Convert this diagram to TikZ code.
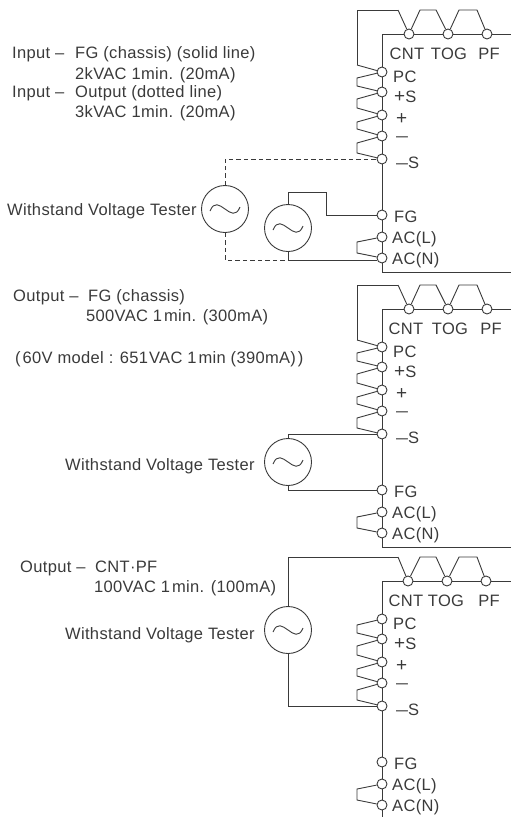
\documentclass[tikz,border=0pt]{standalone}
\usepackage{fontspec}
\setmainfont[LetterSpace=2]{Liberation Sans}
\usepackage{graphicx}
\usepackage{xcolor}
\usetikzlibrary{calc,positioning}
\definecolor{inkgrey}{HTML}{3A3A3A}

\tikzset{
    wire/.style={line width=0.9pt, draw=inkgrey, line join=miter},
    testwire/.style={wire, dash pattern=on 4.5pt off 3pt},
    term/.style={circle, draw=inkgrey, line width=0.9pt, fill=white, minimum size=10pt, inner sep=0pt},
    tester/.style={circle, draw=inkgrey, line width=0.9pt, minimum size=47pt, inner sep=0pt},
    txt/.style={anchor=base west, inner sep=0pt, text=inkgrey, font=\fontsize{16.5}{18}\selectfont},
}

\newcommand{\minusmark}{\scalebox{1.3}[1]{–}}
\newcommand{\plusmark}{\scalebox{1.15}{+}}

% a test set with its tilde
\newcommand{\testset}[3]{
    \node [tester] (#1) at (#2, #3) {};
    \draw [wire] ([shift={(-15,2)}]#1.center) .. controls ([shift={(-7,-18)}]#1.center) and ([shift={(7,18)}]#1.center) .. ([shift={(15,-2)}]#1.center);
}

% terminal block: prefix, shift down, top row shift, x of CNT TOG PF labels
\newcommand{\terminals}[6]{
    \begin{scope}[yshift=-#2pt]
        \foreach \name/\ypos/\tx/\ty/\lab in {PC/72/393/82/PC, pS/92/394/102/\plusmark S, pl/115/396/124/\plusmark, ml/136/396/141/\minusmark, mS/159/396/168/\minusmark S, FG/215/394/222/FG, ACL/237/392/243/AC(L), ACN/258/392/264/AC(N)} {
            \node [term] (#1\name) at (382, \ypos) {};
            \node [txt] (#1\name txt) at (\tx, \ty) {\lab};
        }
        \foreach \name/\xpos/\xlab in {CNT/409/#4, TOG/448/#5, PF/487/#6} {
            \node [term] (#1\name) at (\xpos+#3, 34) {};
            \node [txt, anchor=base] (#1\name txt) at (\xlab, 59) {\name};
        }
        \coordinate (#1corner) at (382, 34);
        \coordinate (#1end) at (511, 34);
        \coordinate (#1in) at (398, 10);

        % top jumpers
        \draw [wire] (#1in) -- (#1CNT);
        \draw [wire] (#1CNT) -- (420, 10) -- (436, 10) -- (#1TOG);
        \draw [wire] (#1TOG) -- (459, 10) -- (477, 10) -- (#1PF);

        % side jumpers
        \draw [wire] (#1PC) -- (357, 78) -- (357, 86) -- (#1pS);
        \draw [wire] (#1pS) -- (357, 99) -- (357, 108) -- (#1pl);
        \draw [wire] (#1pl) -- (357, 122) -- (357, 129) -- (#1ml);
        \draw [wire] (#1ml) -- (357, 143) -- (357, 153) -- (#1mS);
        \draw [wire] (#1ACL) -- (357, 242) -- (357, 253) -- (#1ACN);

        % frame
        \draw [wire] (#1PC) -- (#1corner) -- (#1CNT) -- (#1TOG) -- (#1PF) -- (#1end);
        \draw [wire] (#1PC) -- (#1pS) -- (#1pl) -- (#1ml) -- (#1mS) -- (#1FG) -- (#1ACL) -- (#1ACN);
    \end{scope}
}

\begin{document}
\begin{tikzpicture}[x=1pt, y=-1pt]
    \useasboundingbox (0, 0) rectangle (511, 817);

    % Input tests
    \terminals{a}{0}{0}{407}{449}{489}
    \coordinate (aout) at (511, 272);
    \coordinate (abot) at (382, 272);
    \coordinate (astart) at (357, 65);
    \draw [wire] (aACN) -- (abot) -- (aout);
    \draw [wire] (astart) |- (ain);
    \draw [wire] (astart) -- (aPC);
    \node [txt] (atitleA) at (12, 58) {Input –};
    \node [txt] (atitleB) at (75, 58) {FG (chassis) (solid line)};
    \node [txt] (atitleC) at (75, 79) {2kVAC 1min. (20mA)};
    \node [txt] (atitleD) at (12, 97) {Input –};
    \node [txt] (atitleE) at (75, 97) {Output (dotted line)};
    \node [txt] (atitleF) at (75, 117) {3kVAC 1min. (20mA)};
    \node [txt] (atester) at (7, 215) {Withstand Voltage Tester};
    \testset{atestA}{225}{209}
    \testset{atestB}{288}{228}
    \coordinate (afoot) at (288, 260);
    \coordinate (afg) at (326, 192);
    \draw [wire] (atestB.north) |- (afg) |- (aFG);
    \draw [wire] (atestB.south) -- (afoot) -- ([yshift=-2pt]aACN.west);
    \draw [testwire] (atestA.north) |- (amS);
    \draw [testwire] (atestA.south) |- (afoot);

    % Output to FG
    \terminals{b}{275}{0}{406}{450}{491}
    \coordinate (bout) at (511, 547);
    \coordinate (bbot) at (382, 547);
    \coordinate (bstart) at (357, 340);
    \draw [wire] (bACN) -- (bbot) -- (bout);
    \draw [wire] (bstart) |- (bin);
    \draw [wire] (bstart) -- (bPC);
    \node [txt] (btitleA) at (13, 301) {Output –};
    \node [txt] (btitleB) at (88, 301) {FG (chassis)};
    \node [txt] (btitleC) at (86, 321) {500VAC 1\kern2pt min. (300mA)};
    \node [txt] (btitleD) at (15, 363) {(\kern2pt 60V model : 651\kern1pt VAC 1\kern2pt min (390mA)\kern2pt)};
    \node [txt] (btester) at (65, 470) {Withstand Voltage Tester};
    \testset{btest}{288}{462}
    \draw [wire] (btest.north) |- (bmS);
    \draw [wire] (btest.south) |- (bFG);

    % Output to CNT and PF
    \terminals{c}{547}{-1}{406}{446}{489}
    \coordinate (cbot) at (382, 817);
    \draw [wire] (cACN) -- (cbot);
    \node [txt] (ctitleA) at (20, 572) {Output –};
    \node [txt] (ctitleB) at (95, 572) {CNT·PF};
    \node [txt] (ctitleC) at (94, 592) {100VAC 1\kern2pt min. (100mA)};
    \node [txt] (ctester) at (65, 639) {Withstand Voltage Tester};
    \testset{ctest}{288}{630}
    \draw [wire] (ctest.north) |- (cin);
    \draw [wire] (ctest.south) |- (cmS);
\end{tikzpicture}
\end{document}
